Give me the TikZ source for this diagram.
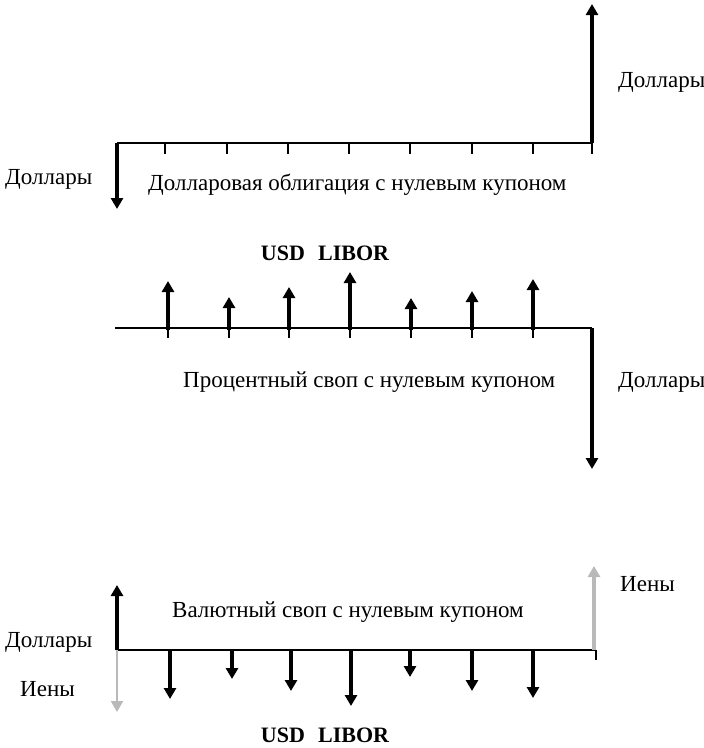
\documentclass[tikz,border=0pt]{standalone}
\usepackage{fontspec}
\setmainfont{Liberation Serif}
\usetikzlibrary{arrows.meta}
\begin{document}
\begin{tikzpicture}[x=1pt,y=-1pt,
  axis/.style={line width=2.8pt},
  tickmark/.style={line width=1.8pt},
  flow/.style={line width=3.4pt,-{Triangle[width=12pt,length=11pt]}},
  yenflow/.style={flow,draw=gray!55},
  lbl/.style={font=\fontsize{23}{26}\selectfont,inner sep=0pt,anchor=west},
  title/.style={font=\fontsize{22}{26}\selectfont\bfseries,inner sep=0pt}]
\useasboundingbox (0,0) rectangle (704,748);

% ---- zero-coupon dollar bond ----
\coordinate (b0) at (117,143);
\coordinate (bN) at (592,143);
\coordinate (bdown) at (117,209);
\coordinate (bup) at (592,4);
\draw[axis] (b0) -- (bN);
\foreach \x in {165,227,288,349,410,472,533,592}
  \draw[tickmark] (\x,143) -- (\x,154);
\draw[flow] (b0) -- (bdown);
\draw[flow] (bN) -- (bup);
\node[lbl] (bl) at (618,82) {Доллары};
\node[lbl] (bll) at (5,179) {Доллары};
\node[lbl] (bt) at (148,185) {Долларовая облигация с нулевым купоном};

% ---- zero-coupon interest rate swap ----
\node[title] (libor1) at (325,253) {USD\hspace{0.6em}LIBOR};
\coordinate (s0) at (115,328);
\coordinate (sN) at (592,328);
\coordinate (sdown) at (592,469);
\draw[axis] (s0) -- (sN);
\foreach \x/\t in {168/281,229/297,289/287,350/272,411/298,472/291,533/279}{
  \draw[tickmark] (\x,328) -- (\x,338);
  \coordinate (sb) at (\x,330);
  \coordinate (st) at (\x,\t);
  \draw[flow] (sb) -- (st);
}
\draw[flow] (sN) -- (sdown);
\node[lbl] (st1) at (183,382) {Процентный своп с нулевым купоном};
\node[lbl] (sl) at (618,382) {Доллары};

% ---- zero-coupon currency swap ----
\coordinate (c0) at (117,650);
\coordinate (cN) at (596,650);
\coordinate (cup) at (117,585);
\coordinate (cdown) at (117,712);
\coordinate (cyen) at (594,566);
\draw[axis] (c0) -- (cN);
\draw[tickmark] (cN) -- ++(0,10);
\draw[yenflow] (cN) ++(-2,0) coordinate (cyb) (cyb) -- (cyen);
\draw[yenflow,line width=2.2pt] (c0) -- (cdown);
\draw[flow] (c0) -- (cup);
\foreach \x/\t in {170/699,232/679,291/691,351/706,410/677,472/691,533/698}{
  \coordinate (cb) at (\x,649);
  \coordinate (ct) at (\x,\t);
  \draw[flow] (cb) -- (ct);
}
\node[lbl] (cy) at (620,584) {Иены};
\node[lbl] (cl) at (5,642) {Доллары};
\node[lbl] (ct1) at (172,612) {Валютный своп с нулевым купоном};
\node[lbl] (cy2) at (20,689) {Иены};
\node[title] (libor2) at (325,735) {USD\hspace{0.6em}LIBOR};
\end{tikzpicture}
\end{document}
